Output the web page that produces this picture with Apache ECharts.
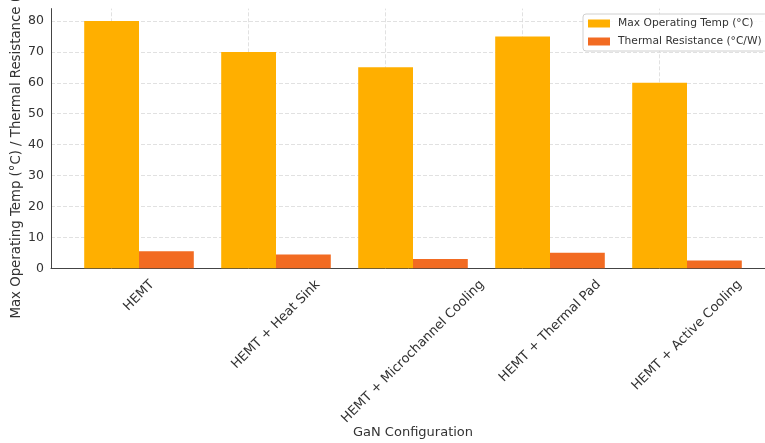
<!DOCTYPE html>
<html>
<head>
<meta charset="utf-8">
<script src="https://cdn.jsdelivr.net/npm/echarts@6/dist/echarts.min.js"></script>
<style>
  html, body { margin: 0; padding: 0; background: #fff; }
  #chart { width: 765px; height: 443px; }
</style>
</head>
<body>
<div id="chart"></div>
<script>
// GaN configuration comparison data
const categories = [
  'HEMT',
  'HEMT + Heat Sink',
  'HEMT + Microchannel Cooling',
  'HEMT + Thermal Pad',
  'HEMT + Active Cooling'
];
const maxOperatingTemp = [80, 70, 65, 75, 60];
const thermalResistance = [5.5, 4.5, 3.0, 5.0, 2.5];
const yAxisMax = 84;
const yAxisStep = 10;

const FONT = '"DejaVu Sans", sans-serif';
const LABEL_SIZE = 13;
const LABEL_LINE = 15;

// Rotated category labels are centred under their tick (like a 45° label
// with centred alignment): each label gets a spacer row above it and a
// spacer token after it, sized from its measured width.
const measureCtx = document.createElement('canvas').getContext('2d');
measureCtx.font = LABEL_SIZE + 'px ' + FONT;
const labelRich = {
  t: { fontSize: LABEL_SIZE, lineHeight: LABEL_LINE, color: '#333', fontFamily: FONT }
};
categories.forEach(function (name, i) {
  const s = (measureCtx.measureText(name).width + LABEL_LINE) / 2;
  labelRich['v' + i] = { fontSize: LABEL_SIZE, lineHeight: s, height: s };
  labelRich['p' + i] = { fontSize: LABEL_SIZE, width: s };
});

const gridLine = { color: '#d9d9d9', type: [4, 2], width: 0.8 };
const spine = { color: '#444', width: 1 };

const chart = echarts.init(document.getElementById('chart'), null, { renderer: 'canvas' });
chart.setOption({
  animation: false,
  backgroundColor: '#fff',
  textStyle: { fontFamily: FONT },
  grid: [
    // bar area (category bands)
    { left: 70.5, right: 9.5, top: 8.6, bottom: 174.7, outerBoundsMode: 'none', containLabel: false },
    // frame: spines and horizontal grid
    { left: 51, right: -9.7, top: 8.6, bottom: 174.7, outerBoundsMode: 'none', containLabel: false }
  ],
  legend: {
    orient: 'vertical',
    left: 583,
    top: 14,
    padding: [4, 6, 4, 5],
    itemWidth: 22,
    itemHeight: 8,
    itemGap: 7,
    icon: 'rect',
    backgroundColor: 'rgba(255,255,255,0.85)',
    borderColor: '#d0d0d0',
    borderWidth: 1,
    borderRadius: 3,
    textStyle: { fontSize: 10.7, color: '#333', fontFamily: FONT, padding: [0, 0, 0, 3] },
    data: ['Max Operating Temp (°C)', 'Thermal Resistance (°C/W)']
  },
  xAxis: [
    {
      gridIndex: 0,
      type: 'category',
      data: categories,
      axisLine: { show: false },
      axisTick: { show: false },
      splitLine: { show: false },
      axisLabel: {
        interval: 0,
        rotate: 45,
        align: 'center',
        verticalAlign: 'middle',
        margin: 9,
        fontSize: LABEL_SIZE,
        color: '#333',
        fontFamily: FONT,
        formatter: function (value, index) {
          return '{v' + index + '| }\n{t|' + value + '}{p' + index + '| }';
        },
        rich: labelRich
      },
      name: 'GaN Configuration',
      nameLocation: 'middle',
      nameGap: 158,
      nameMoveOverlap: false,
      nameTextStyle: { fontSize: 13, color: '#333', fontFamily: FONT }
    },
    {
      gridIndex: 1,
      type: 'value',
      min: 0,
      max: 1,
      axisLine: { show: true, lineStyle: spine },
      axisTick: { show: false },
      axisLabel: { show: false },
      splitLine: { show: false }
    }
  ],
  yAxis: [
    {
      gridIndex: 0,
      type: 'value',
      min: 0,
      max: yAxisMax,
      show: false
    },
    {
      gridIndex: 1,
      type: 'value',
      min: 0,
      max: yAxisMax,
      interval: yAxisStep,
      axisLine: { show: true, lineStyle: spine },
      axisTick: { show: false },
      axisLabel: {
        showMaxLabel: false,
        margin: 7,
        fontSize: 12.5,
        color: '#333',
        fontFamily: FONT
      },
      splitLine: { show: true, showMaxLine: false, lineStyle: gridLine },
      name: 'Max Operating Temp (°C) / Thermal Resistance (°C/W)',
      nameLocation: 'middle',
      nameGap: 28,
      nameMoveOverlap: false,
      nameTextStyle: { fontSize: 13.3, color: '#333', fontFamily: FONT }
    }
  ],
  series: [
    {
      name: 'Max Operating Temp (°C)',
      type: 'bar',
      xAxisIndex: 0,
      yAxisIndex: 0,
      data: maxOperatingTemp,
      barGap: '0%',
      barCategoryGap: '20%',
      itemStyle: { color: '#FFAF00' },
      markLine: {
        z: 1,
        silent: true,
        symbol: 'none',
        label: { show: false },
        lineStyle: gridLine,
        data: categories.map(function (c) { return { xAxis: c }; })
      }
    },
    {
      name: 'Thermal Resistance (°C/W)',
      type: 'bar',
      xAxisIndex: 0,
      yAxisIndex: 0,
      data: thermalResistance,
      barGap: '0%',
      barCategoryGap: '20%',
      itemStyle: { color: '#F26B22' }
    }
  ]
});
</script>
</body>
</html>
